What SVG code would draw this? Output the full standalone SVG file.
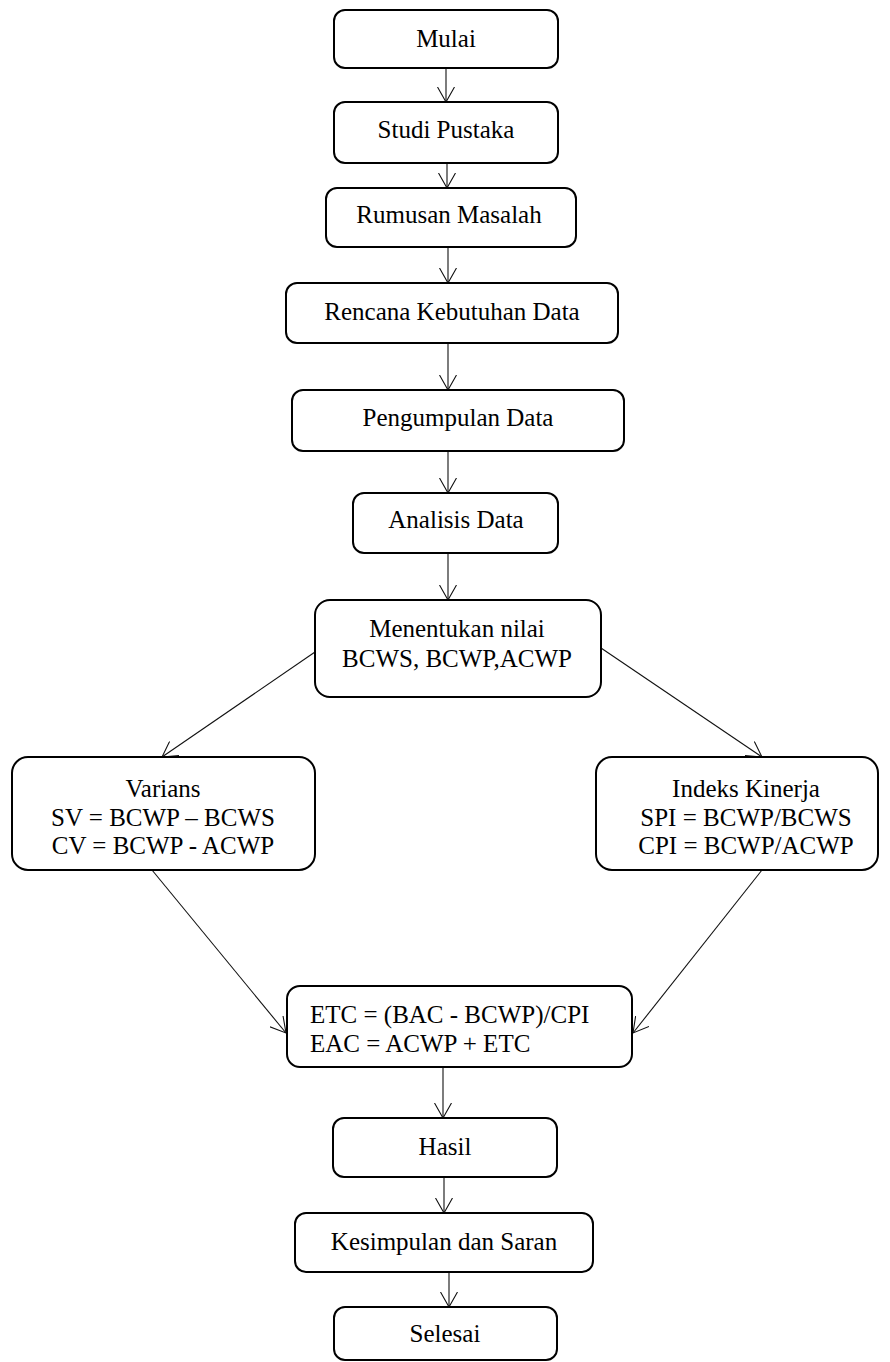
<svg xmlns="http://www.w3.org/2000/svg" width="890" height="1362" viewBox="0 0 890 1362">
<style>
.box{fill:#fff;stroke:#000;stroke-width:2}
.t{font-family:"Liberation Serif","Times New Roman",serif;font-size:25px;fill:#000}
.c{text-anchor:middle}
.ln{stroke:#111;stroke-width:1.1;fill:none;marker-end:url(#ah)}
</style>
<defs>
<marker id="ah" viewBox="0 0 16 18" refX="15" refY="9" markerWidth="16" markerHeight="18" markerUnits="userSpaceOnUse" orient="auto">
<path d="M0,0.5 L15,9 L0,17.5" fill="none" stroke="#111" stroke-width="1.1"/>
</marker>
</defs>
<g id="connectors">
<line class="ln" x1="446" y1="68" x2="446" y2="102"/>
<line class="ln" x1="447" y1="163" x2="447" y2="188"/>
<line class="ln" x1="448" y1="247" x2="448" y2="283"/>
<line class="ln" x1="448" y1="343" x2="448" y2="390"/>
<line class="ln" x1="448" y1="451" x2="448" y2="493"/>
<line class="ln" x1="448" y1="553" x2="448" y2="600"/>
<line class="ln" x1="315" y1="652" x2="162" y2="757"/>
<line class="ln" x1="601" y1="648" x2="762" y2="757"/>
<line class="ln" x1="152" y1="870" x2="286" y2="1033"/>
<line class="ln" x1="762" y1="870" x2="633" y2="1033"/>
<line class="ln" x1="443" y1="1067" x2="443" y2="1118"/>
<line class="ln" x1="444" y1="1177" x2="444" y2="1213"/>
<line class="ln" x1="449" y1="1272" x2="449" y2="1307"/>
</g>
<g id="mulai"><rect class="box" x="334" y="10" width="224" height="58" rx="11"/><text class="t c" x="446" y="47">Mulai</text></g>
<g id="studi"><rect class="box" x="334" y="102" width="224" height="61" rx="11"/><text class="t c" x="446" y="138">Studi Pustaka</text></g>
<g id="rumusan"><rect class="box" x="326" y="188" width="250" height="59" rx="11"/><text class="t c" x="449" y="223">Rumusan Masalah</text></g>
<g id="rencana"><rect class="box" x="286" y="283" width="332" height="60" rx="11"/><text class="t c" x="452" y="320">Rencana Kebutuhan Data</text></g>
<g id="pengumpulan"><rect class="box" x="292" y="390" width="332" height="61" rx="11"/><text class="t c" x="458" y="426">Pengumpulan Data</text></g>
<g id="analisis"><rect class="box" x="353" y="493" width="205" height="60" rx="11"/><text class="t c" x="456" y="528">Analisis Data</text></g>
<g id="menentukan"><rect class="box" x="315" y="600" width="286" height="97" rx="15"/><text class="t c" x="457" y="637">Menentukan nilai</text><text class="t c" x="457" y="667">BCWS, BCWP,ACWP</text></g>
<g id="varians"><rect class="box" x="12" y="757" width="303" height="113" rx="16"/><text class="t c" x="163" y="797">Varians</text><text class="t c" x="163" y="826">SV = BCWP – BCWS</text><text class="t c" x="163" y="854">CV = BCWP - ACWP</text></g>
<g id="indeks"><rect class="box" x="596" y="757" width="282" height="113" rx="16"/><text class="t c" x="746" y="797">Indeks Kinerja</text><text class="t c" x="746" y="826">SPI = BCWP/BCWS</text><text class="t c" x="746" y="854">CPI = BCWP/ACWP</text></g>
<g id="etc"><rect class="box" x="287" y="986" width="345" height="81" rx="13"/><text class="t" x="310" y="1023">ETC = (BAC - BCWP)/CPI</text><text class="t" x="310" y="1052">EAC = ACWP + ETC</text></g>
<g id="hasil"><rect class="box" x="333" y="1118" width="224" height="59" rx="11"/><text class="t c" x="445" y="1155">Hasil</text></g>
<g id="kesimpulan"><rect class="box" x="295" y="1213" width="298" height="59" rx="11"/><text class="t c" x="444" y="1250">Kesimpulan dan Saran</text></g>
<g id="selesai"><rect class="box" x="334" y="1307" width="223" height="53" rx="11"/><text class="t c" x="445" y="1342">Selesai</text></g>
</svg>
